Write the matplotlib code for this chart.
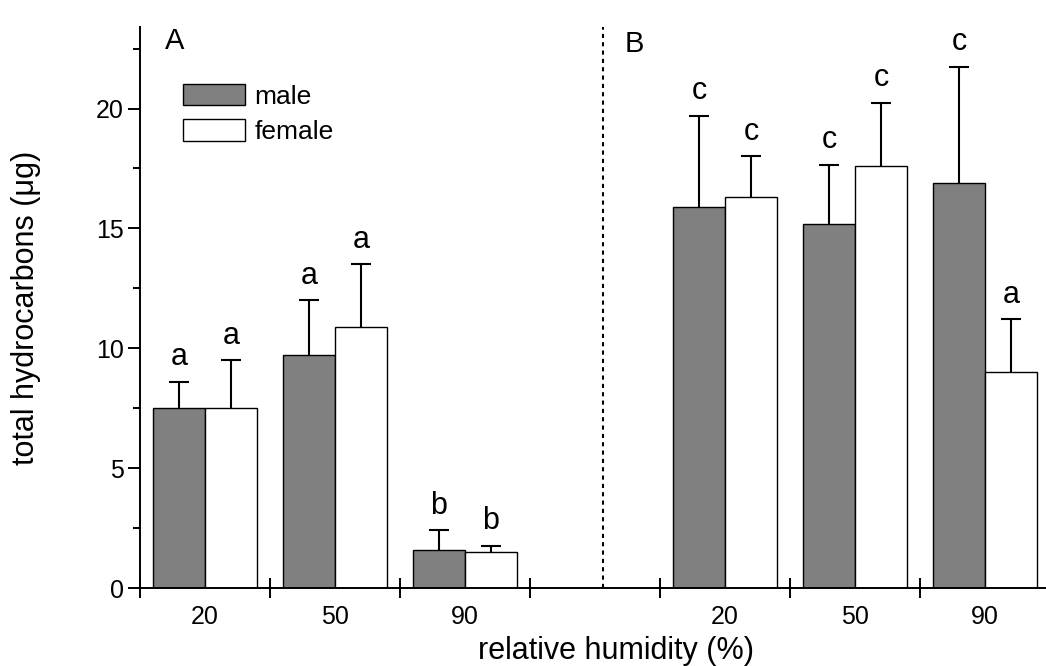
import matplotlib
matplotlib.use('Agg')
import matplotlib.pyplot as plt
from matplotlib.patches import Patch
import numpy as np

plt.rcParams['font.family'] = ['Liberation Sans', 'DejaVu Sans']

# data (means and upper error)
humidity = ['20', '50', '90', '20', '50', '90']
group_pos = [0, 1, 2, 4, 5, 6]
male_mean = [7.5, 9.7, 1.6, 15.9, 15.2, 16.9]
male_err = [1.1, 2.3, 0.8, 3.8, 2.45, 4.85]
female_mean = [7.5, 10.9, 1.5, 16.3, 17.6, 9.0]
female_err = [2.0, 2.6, 0.27, 1.7, 2.65, 2.2]
male_letters = ['a', 'a', 'b', 'c', 'c', 'c']
female_letters = ['a', 'a', 'b', 'c', 'c', 'a']
divider_x = 3.06

W, H = 1046, 666
fig = plt.figure(figsize=(W / 100, H / 100), dpi=100)
ax = fig.add_axes([140 / W, 78 / H, (W - 140) / W, 561 / H])

x = np.array(group_pos, dtype=float)
bw = 0.4
ax.bar(x - bw / 2, male_mean, bw, color='#808080', edgecolor='black', linewidth=1, zorder=2)
ax.bar(x + bw / 2, female_mean, bw, color='white', edgecolor='black', linewidth=1, zorder=2)

ekw = dict(fmt='none', ecolor='black', elinewidth=1.5, capsize=7, capthick=1.5, zorder=1)
for xs, m, e in [(x - bw / 2, male_mean, male_err), (x + bw / 2, female_mean, female_err)]:
    eb = ax.errorbar(xs, m, yerr=[np.zeros(6), e], **ekw)
    eb[1][0].set_visible(False)  # hide the lower caps

# significance letters
for xi, m, e, lab in zip(x - bw / 2, male_mean, male_err, male_letters):
    ax.annotate(lab, (xi, m + e), xytext=(0, 7), textcoords='offset points',
                ha='center', va='bottom', fontsize=22)
for xi, m, e, lab in zip(x + bw / 2, female_mean, female_err, female_letters):
    ax.annotate(lab, (xi, m + e), xytext=(0, 7), textcoords='offset points',
                ha='center', va='bottom', fontsize=22)

ax.axvline(divider_x, color='black', linestyle=(0, (2, 2)), linewidth=1.5, zorder=0)

ax.set_xlim(-0.5, 6.47)
ax.set_ylim(0, 23.4)

for s in ['top', 'right']:
    ax.spines[s].set_visible(False)
for s in ['left', 'bottom']:
    ax.spines[s].set_linewidth(1.4)

# x: tick marks between groups, labels at group centres
ax.set_xticks(np.arange(-0.5, 6, 1.0))
ax.set_xticklabels([])
ax.set_xticks(x, minor=True)
ax.set_xticklabels(humidity, minor=True)
ax.tick_params(axis='x', which='major', direction='inout', length=14, width=1.4)
ax.tick_params(axis='x', which='minor', length=0, pad=12, labelsize=18)

ax.set_yticks([0, 5, 10, 15, 20])
ax.set_yticks(np.arange(2.5, 23, 5), minor=True)
ax.tick_params(axis='y', which='major', direction='out', length=8.5, width=1.4, pad=3, labelsize=18)
ax.tick_params(axis='y', which='minor', direction='out', length=5, width=1.4)

ax.set_xlabel('relative humidity (%)', fontsize=22)
ax.xaxis.set_label_coords((616 - 140) / 906, -48 / 561)
ax.set_ylabel('total hydrocarbons (\u03bcg)', fontsize=22)
ax.yaxis.set_label_coords((41 - 140) / 906, 0.5)

handles = [Patch(facecolor='#808080', edgecolor='black', linewidth=1),
           Patch(facecolor='white', edgecolor='black', linewidth=1)]
ax.legend(handles, ['male', 'female'], loc='upper left',
          bbox_to_anchor=(183 / W, 1 - 84 / H), bbox_transform=fig.transFigure,
          frameon=False, fontsize=19, handlelength=2.35, handleheight=0.87,
          handletextpad=0.35, labelspacing=0.4, borderpad=0, borderaxespad=0)

fig.text(165 / W, 1 - 41 / H, 'A', fontsize=21, va='center', ha='left')
fig.text(625 / W, 1 - 44 / H, 'B', fontsize=21, va='center', ha='left')

fig.savefig('out.png', dpi=100)
